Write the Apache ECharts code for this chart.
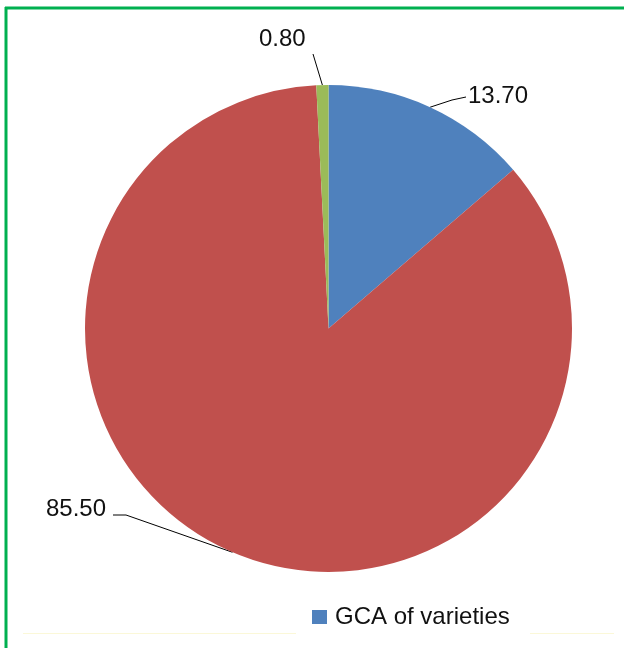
<!DOCTYPE html>
<html>
<head>
<meta charset="utf-8">
<script src="https://cdn.jsdelivr.net/npm/echarts@6/dist/echarts.min.js"></script>
<style>
  html, body { margin: 0; padding: 0; background: #fff; }
  #chart { width: 624px; height: 648px; }
</style>
</head>
<body>
<div id="chart"></div>
<script>
// slice names and values (percent), clockwise from 12 o'clock
let names = ['GCA of varieties', 'SCA of crosses', 'Error'];
let values = [13.70, 85.50, 0.80];
let colors = ['#4F81BD', '#C0504D', '#9BBB59'];

// where each label sits and the bends of its leader line
let label_pos = [
    { x: 468, y: 96, bends: [[452, 100], [466, 97]] },
    { x: 46, y: 509, bends: [[126, 515], [113, 515]] },
    { x: 259, y: 39, bends: [[313, 54]] }
];

let myChart = echarts.init(document.getElementById('chart'));

let option = {
    animation: false,
    backgroundColor: '#fff',
    textStyle: { fontFamily: 'Liberation Sans' },
    legend: {
        data: [names[0]],
        left: 312,
        top: 605,
        padding: 0,
        itemWidth: 15,
        itemHeight: 14,
        icon: 'rect',
        textStyle: {
            fontSize: 24,
            color: '#111',
            fontFamily: 'Liberation Sans',
            padding: [0, 0, 0, 3]
        }
    },
    graphic: [
        // green frame (top and left edges only are visible)
        { type: 'line', shape: { x1: 5, y1: 8, x2: 624, y2: 8 }, style: { stroke: '#00B050', lineWidth: 3 } },
        { type: 'line', shape: { x1: 6, y1: 7, x2: 6, y2: 648 }, style: { stroke: '#00B050', lineWidth: 3 } },
        // faint plot-area edge at the bottom
        { type: 'line', shape: { x1: 23, y1: 633.5, x2: 296, y2: 633.5 }, style: { stroke: '#FBF8D8', lineWidth: 1 } },
        { type: 'line', shape: { x1: 530, y1: 633.5, x2: 614, y2: 633.5 }, style: { stroke: '#FBF8D8', lineWidth: 1 } }
    ],
    series: [
        {
            type: 'pie',
            center: [328.5, 328.5],
            radius: 243.5,
            startAngle: 90,
            clockwise: true,
            avoidLabelOverlap: false,
            data: names.map(function (n, i) {
                return { name: n, value: values[i], itemStyle: { color: colors[i] } };
            }),
            label: {
                show: true,
                position: 'outside',
                fontSize: 24,
                color: '#111',
                fontFamily: 'Liberation Sans',
                formatter: function (p) {
                    return p.value.toFixed(2);
                }
            },
            labelLine: {
                show: true,
                length: 10,
                length2: 10,
                lineStyle: { color: '#000', width: 1 }
            },
            labelLayout: function (params) {
                let pos = label_pos[params.dataIndex];
                let start = params.labelLinePoints ? params.labelLinePoints[0] : null;
                let pts = start ? [start].concat(pos.bends) : null;
                return {
                    x: pos.x,
                    y: pos.y,
                    align: 'left',
                    verticalAlign: 'middle',
                    labelLinePoints: pts
                };
            }
        }
    ]
};

myChart.setOption(option);
</script>
</body>
</html>
